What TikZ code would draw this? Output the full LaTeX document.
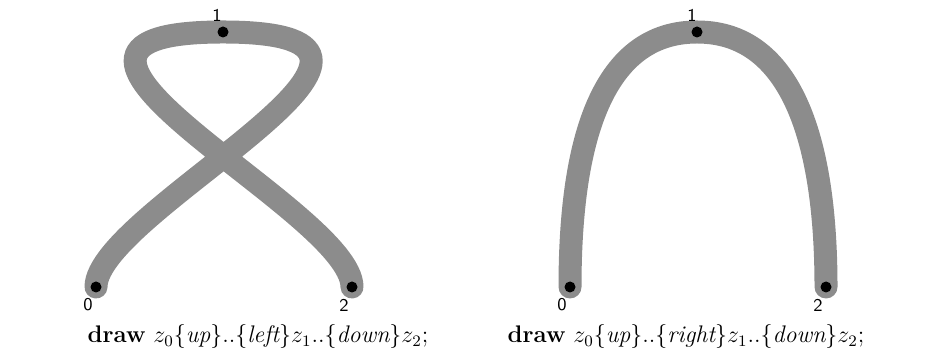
\documentclass[tikz,border=0pt]{standalone}
\begin{document}
\begin{tikzpicture}[x=0.5pt,y=-0.5pt,
  pen/.style={line width=11.5pt,draw=black!45,line cap=round},
  pt/.style={circle,fill=black,inner sep=0pt,minimum size=5.5pt},
  lbl/.style={font=\sffamily\fontsize{9}{9}\selectfont,inner sep=0pt},
  captext/.style={font=\large,inner sep=0pt,anchor=base}]
\useasboundingbox (0,0) rectangle (929,356);
% left figure
\coordinate (a0) at (96,287);
\coordinate (a1) at (223,32);
\coordinate (a2) at (352,287);
\draw[pen] (a0) .. controls +(0,-77) and +(256,0) .. (a1)
                .. controls +(-256,0) and +(0,-77) .. (a2);
\node[pt] (pa0) at (a0) {};
\node[pt] (pa1) at (a1) {};
\node[pt] (pa2) at (a2) {};
\node[lbl] (la0) at (88,305) {0};
\node[lbl] (la1) at (217,15) {1};
\node[lbl] (la2) at (344,305) {2};
% right figure
\coordinate (b0) at (570,287);
\coordinate (b1) at (697,32);
\coordinate (b2) at (826,287);
\draw[pen] (b0) .. controls +(0,-122) and +(-105,0) .. (b1)
                .. controls +(105,0) and +(0,-122) .. (b2);
\node[pt] (pb0) at (b0) {};
\node[pt] (pb1) at (b1) {};
\node[pt] (pb2) at (b2) {};
\node[lbl] (lb0) at (562,305) {0};
\node[lbl] (lb1) at (692,15) {1};
\node[lbl] (lb2) at (818,305) {2};
% captions
\node[captext] (c1) at (258,343) {\textbf{draw} $z_0\{\textit{up}\}{..}\{\textit{left}\}z_1{..}\{\textit{down}\}z_2$;};
\node[captext] (c2) at (686,343) {\textbf{draw} $z_0\{\textit{up}\}{..}\{\textit{right}\}z_1{..}\{\textit{down}\}z_2$;};
\end{tikzpicture}
\end{document}
